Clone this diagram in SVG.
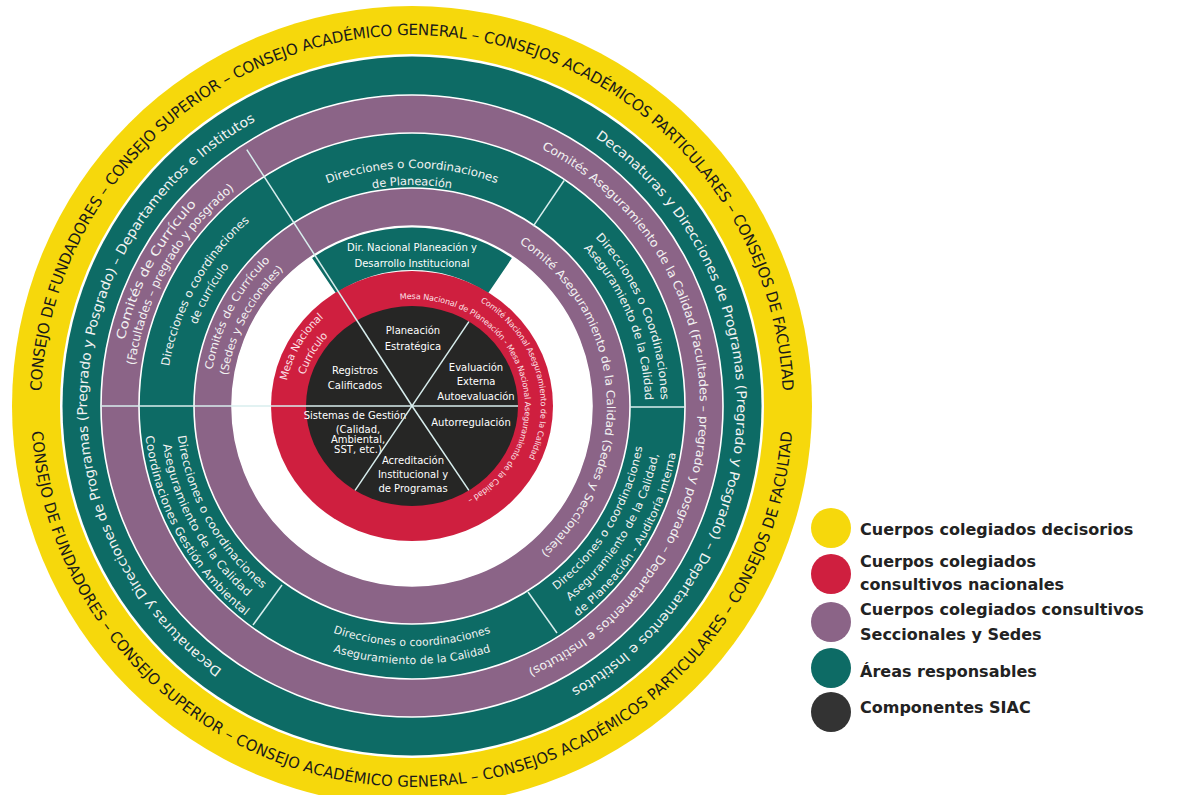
<svg xmlns="http://www.w3.org/2000/svg" width="1177" height="795" viewBox="0 0 1177 795">
<style>
text{font-family:"DejaVu Sans",Verdana,sans-serif}
.rt{fill:#f2f2f2;dominant-baseline:central;text-anchor:middle}
.yt{fill:#1a1a1a;font-size:15.5px;dominant-baseline:central;text-anchor:middle}
.red{fill:#fbe1e7;dominant-baseline:central}
.bk{fill:#ffffff;font-size:10px;text-anchor:middle}
.leg{fill:#222;font-size:16px;font-weight:bold}
.div{stroke:#d8eeee;stroke-width:1.5;fill:none}
.bd{stroke:#ffffff;stroke-width:1.6}
</style>
<defs>
<path id="yt" d="M36,406 A376,376 0 0 1 788,406"/>
<path id="yb" d="M36,406 A376,376 0 0 0 788,406"/>
<path id="tol" d="M222.7,676.3 A330,330 0 0 1 257.1,114.6"/>
<path id="tor" d="M591.7,129.2 A330,330 0 0 1 566.9,697.4"/>
<path id="pol1" d="M112.2,416.5 A300,300 0 0 1 253.0,151.6"/>
<path id="pol2" d="M128.0,408.5 A284,284 0 0 1 267.9,161.3"/>
<path id="por" d="M540.0,143.6 A292,292 0 0 1 526.1,674.8"/>
<path id="tt1" d="M256.4,220.6 A242,242 0 0 1 567.6,220.6"/>
<path id="tt2" d="M267.4,233.6 A225,225 0 0 1 556.6,233.6"/>
<path id="tul1" d="M162.0,410.4 A250,250 0 0 1 283.2,191.7"/>
<path id="tul2" d="M178.0,410.1 A234,234 0 0 1 291.5,205.4"/>
<path id="tur1" d="M567.8,206.6 A253,253 0 0 1 662.5,441.2"/>
<path id="tur2" d="M557.9,219.2 A237,237 0 0 1 646.7,439.0"/>
<path id="tlr1" d="M523.5,607.2 A230,230 0 0 0 642.0,410.0"/>
<path id="tlr2" d="M531.7,622.0 A247,247 0 0 0 659.0,410.3"/>
<path id="tlr3" d="M540.0,636.9 A264,264 0 0 0 676.0,410.6"/>
<path id="tb1" d="M294.0,610.4 A236,236 0 0 0 530.0,610.4"/>
<path id="tb2" d="M285.0,626.0 A254,254 0 0 0 539.0,626.0"/>
<path id="tll1" d="M180.0,402.0 A232,232 0 0 0 292.5,604.9"/>
<path id="tll2" d="M164.0,401.7 A248,248 0 0 0 284.3,618.6"/>
<path id="tll3" d="M148.0,401.4 A264,264 0 0 0 276.0,632.3"/>
<path id="pil1" d="M205.1,413.2 A207,207 0 0 1 302.3,230.5"/>
<path id="pil2" d="M221.1,412.7 A191,191 0 0 1 310.8,244.0"/>
<path id="pir" d="M511.5,233.7 A199,199 0 0 1 534.5,562.8"/>
<path id="rl1" d="M280.0,408.2 A132,126 0 0 1 344.0,298.0"/>
<path id="rl2" d="M296.0,407.9 A116,110 0 0 1 352.3,311.7"/>
<path id="rr1" d="M399.9,296.6 A116,110 0 1 1 399.9,515.4"/>
<path id="rr2" d="M481.9,299.2 A132,126 0 0 1 478.0,515.1"/>
</defs>
<rect width="1177" height="795" fill="#ffffff"/>

<g id="ring-decisorios">
<circle cx="412" cy="406" r="400" fill="#f6d80c"/>
<circle cx="412" cy="406" r="352" fill="#ffffff"/>
<text class="yt"><textPath href="#yt" startOffset="50%" textLength="1150" lengthAdjust="spacingAndGlyphs">CONSEJO DE FUNDADORES – CONSEJO SUPERIOR – CONSEJO ACADÉMICO GENERAL – CONSEJOS ACADÉMICOS PARTICULARES – CONSEJOS DE FACULTAD</textPath></text>
<text class="yt"><textPath href="#yb" startOffset="50%" textLength="1130" lengthAdjust="spacingAndGlyphs">CONSEJO DE FUNDADORES – CONSEJO SUPERIOR – CONSEJO ACADÉMICO GENERAL – CONSEJOS ACADÉMICOS PARTICULARES – CONSEJOS DE FACULTAD</textPath></text>
</g>

<g id="ring-areas-outer">
<circle cx="412" cy="406" r="349.5" fill="#0d6b65"/>
<text class="rt" font-size="13.5"><textPath href="#tol" startOffset="50%" textLength="665" lengthAdjust="spacingAndGlyphs">Decanaturas y Direcciones de Programas (Pregrado y Posgrado) – Departamentos e Institutos</textPath></text>
<text class="rt" font-size="13.5"><textPath href="#tor" startOffset="50%" textLength="670" lengthAdjust="spacingAndGlyphs">Decanaturas y Direcciones de Programas (Pregrado y Posgrado) – Departamentos e Institutos</textPath></text>
</g>

<g id="ring-seccionales-outer">
<circle cx="412" cy="406" r="311" fill="#8b6487" class="bd"/>
<text class="rt" font-size="12.5"><textPath href="#pol1" startOffset="50%" textLength="158" lengthAdjust="spacingAndGlyphs">Comités de Currículo</textPath></text>
<text class="rt" font-size="12"><textPath href="#pol2" startOffset="50%" textLength="210" lengthAdjust="spacingAndGlyphs">(Facultades – pregrado y posgrado)</textPath></text>
<text class="rt" font-size="12"><textPath href="#por" startOffset="50%" textLength="660" lengthAdjust="spacingAndGlyphs">Comités Aseguramiento de la Calidad (Facultades – pregrado y posgrado – Departamentos e Institutos)</textPath></text>
</g>

<g id="ring-areas-inner">
<circle cx="412" cy="406" r="273" fill="#0d6b65" class="bd"/>
<text class="rt" font-size="11.5"><textPath href="#tt1" startOffset="50%" textLength="176" lengthAdjust="spacingAndGlyphs">Direcciones o Coordinaciones</textPath></text>
<text class="rt" font-size="11.5"><textPath href="#tt2" startOffset="50%">de Planeación</textPath></text>
<text class="rt" font-size="11.5"><textPath href="#tul1" startOffset="50%" textLength="172" lengthAdjust="spacingAndGlyphs">Direcciones o coordinaciones</textPath></text>
<text class="rt" font-size="11.5"><textPath href="#tul2" startOffset="50%">de currículo</textPath></text>
<text class="rt" font-size="11.5"><textPath href="#tur1" startOffset="50%" textLength="182" lengthAdjust="spacingAndGlyphs">Direcciones o Coordinaciones</textPath></text>
<text class="rt" font-size="11.5"><textPath href="#tur2" startOffset="50%" textLength="170" lengthAdjust="spacingAndGlyphs">Aseguramiento de la Calidad</textPath></text>
<text class="rt" font-size="11"><textPath href="#tlr1" startOffset="50%" textLength="168" lengthAdjust="spacingAndGlyphs">Direcciones o coordinaciones</textPath></text>
<text class="rt" font-size="11"><textPath href="#tlr2" startOffset="50%" textLength="172" lengthAdjust="spacingAndGlyphs">Aseguramiento de la Calidad,</textPath></text>
<text class="rt" font-size="11"><textPath href="#tlr3" startOffset="50%" textLength="192" lengthAdjust="spacingAndGlyphs">de Planeación - Auditoría interna</textPath></text>
<text class="rt" font-size="11"><textPath href="#tb1" startOffset="50%" textLength="158" lengthAdjust="spacingAndGlyphs">Direcciones o coordinaciones</textPath></text>
<text class="rt" font-size="11"><textPath href="#tb2" startOffset="50%" textLength="158" lengthAdjust="spacingAndGlyphs">Aseguramiento de la Calidad</textPath></text>
<text class="rt" font-size="11.5"><textPath href="#tll1" startOffset="50%" textLength="176" lengthAdjust="spacingAndGlyphs">Direcciones o coordinaciones</textPath></text>
<text class="rt" font-size="11.5"><textPath href="#tll2" startOffset="50%" textLength="175" lengthAdjust="spacingAndGlyphs">Aseguramiento de la Calidad</textPath></text>
<text class="rt" font-size="11.5"><textPath href="#tll3" startOffset="50%" textLength="208" lengthAdjust="spacingAndGlyphs">Coordinaciones Gestión Ambiental</textPath></text>
</g>

<g id="ring-seccionales-inner">
<circle cx="412" cy="406" r="218" fill="#8b6487" class="bd"/>
<text class="rt" font-size="11"><textPath href="#pil1" startOffset="50%" textLength="128" lengthAdjust="spacingAndGlyphs">Comités de Currículo</textPath></text>
<text class="rt" font-size="11"><textPath href="#pil2" startOffset="50%" textLength="124" lengthAdjust="spacingAndGlyphs">(Sedes y Seccionales)</textPath></text>
<text class="rt" font-size="11.5"><textPath href="#pir" startOffset="50%" textLength="365" lengthAdjust="spacingAndGlyphs">Comité Aseguramiento de la Calidad (Sedes y Seccionales)</textPath></text>
<circle cx="412" cy="406" r="180" fill="#ffffff" class="bd"/>
</g>

<g id="dir-nacional">
<path d="M312.1,258.1 A178.5,178.5 0 0 1 511.9,258.1 L488.1,293.3 A136,136 0 0 0 335.9,293.3 Z" fill="#0d6b65"/>
<text class="bk" font-size="10.5" x="412" y="251">Dir. Nacional Planeación y</text>
<text class="bk" font-size="10.5" x="412" y="267">Desarrollo Institucional</text>
</g>

<g id="ring-nacionales">
<ellipse cx="412" cy="406" rx="141" ry="135" fill="#cf1f3f"/>
<text class="red" font-size="10.5" text-anchor="middle"><textPath href="#rl1" startOffset="50%">Mesa Nacional</textPath></text>
<text class="red" font-size="10.5" text-anchor="middle"><textPath href="#rl2" startOffset="50%">Currículo</textPath></text>
<text class="red" font-size="8"><textPath href="#rr1" startOffset="0">Mesa Nacional de Planeación - Mesa Nacional Aseguramiento de la Calidad –</textPath></text>
<text class="red" font-size="8"><textPath href="#rr2" startOffset="0">Comité Nacional Aseguramiento de la Calidad</textPath></text>
</g>

<g id="componentes-siac">
<ellipse cx="412" cy="406" rx="106" ry="100" fill="#262625"/>
<text class="bk" x="413" y="334">Planeación</text>
<text class="bk" x="413" y="350">Estratégica</text>
<text class="bk" x="355" y="374">Registros</text>
<text class="bk" x="355" y="389">Calificados</text>
<text class="bk" x="476" y="371">Evaluación</text>
<text class="bk" x="476" y="385">Externa</text>
<text class="bk" x="476" y="400">Autoevaluación</text>
<text class="bk" x="471" y="426">Autorregulación</text>
<text class="bk" x="413" y="464">Acreditación</text>
<text class="bk" x="413" y="478">Institucional y</text>
<text class="bk" x="413" y="492">de Programas</text>
<text class="bk" x="355" y="419">Sistemas de Gestión</text>
<text class="bk" font-size="7" x="358" y="433">(Calidad,</text>
<text class="bk" font-size="7" x="358" y="443">Ambiental,</text>
<text class="bk" font-size="7" x="358" y="453">SST, etc.)</text>
</g>

<g id="connectors">
<line class="div" x1="101" y1="406" x2="412" y2="406"/>
<line class="div" x1="412" y1="406" x2="518" y2="406"/>
<line class="div" x1="630" y1="407" x2="685" y2="407"/>
<line class="div" x1="246.8" y1="149.6" x2="412" y2="406"/>
<line class="div" x1="412" y1="406" x2="468.9" y2="490.4" stroke="#ffffff"/>
<line class="div" x1="355.1" y1="490.4" x2="468.9" y2="321.6"/>
<line class="div" x1="533.3" y1="226.1" x2="564.1" y2="180.5"/>
<line class="div" x1="528" y1="592" x2="557" y2="633"/>
<line class="div" x1="282" y1="585" x2="253" y2="625"/>
</g>

<g id="legend">
<circle cx="831" cy="528" r="20" fill="#f6d80c"/>
<circle cx="831" cy="574" r="20" fill="#cf1f3f"/>
<circle cx="831" cy="622" r="20" fill="#8b6487"/>
<circle cx="831" cy="668" r="20" fill="#0d6b65"/>
<circle cx="831" cy="712" r="20" fill="#333333"/>
<text class="leg" x="860" y="535">Cuerpos colegiados decisorios</text>
<text class="leg" x="860" y="567">Cuerpos colegiados</text>
<text class="leg" x="860" y="590">consultivos nacionales</text>
<text class="leg" x="860" y="615">Cuerpos colegiados consultivos</text>
<text class="leg" x="860" y="640">Seccionales y Sedes</text>
<text class="leg" x="860" y="677">Áreas responsables</text>
<text class="leg" x="860" y="713">Componentes SIAC</text>
</g>
</svg>
